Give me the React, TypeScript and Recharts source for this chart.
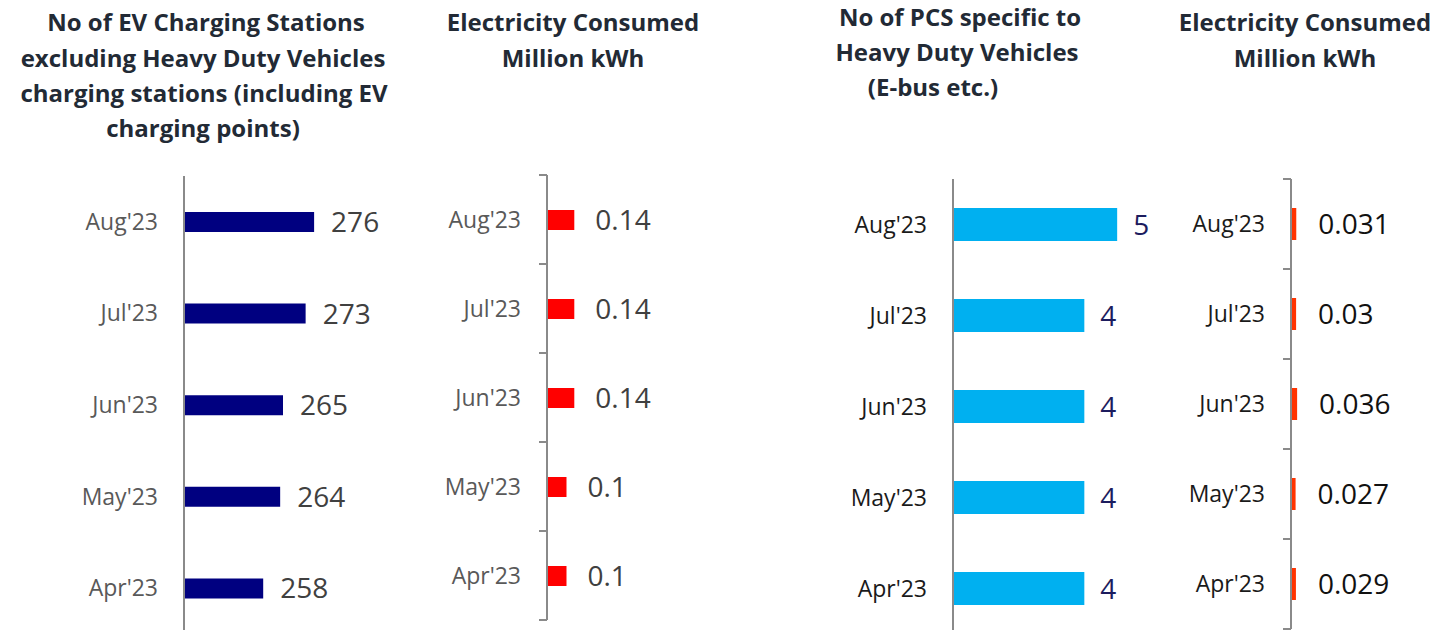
import React from 'react';
import { BarChart, Bar, XAxis, YAxis, LabelList } from 'recharts';

const months = ["Aug'23", "Jul'23", "Jun'23", "May'23", "Apr'23"];
const evStations = [276, 273, 265, 264, 258];
const evElectricity = [0.14, 0.14, 0.14, 0.1, 0.1];
const hdvStations = [5, 4, 4, 4, 4];
const hdvElectricity = [0.031, 0.03, 0.036, 0.027, 0.029];

const FONT = '"Open Sans", "Noto Sans", sans-serif';
const TITLE_COLOR = '#222a35';

interface ITitleLine {
    text: string;
    cx: number;
    cy: number;
}

const Title = ({ lines }: { lines: ITitleLine[] }) => (
    <>
        {lines.map((l, i) => (
            <div
                key={i}
                style={{
                    position: 'absolute',
                    left: l.cx - 300,
                    top: l.cy - 18,
                    width: 600,
                    lineHeight: '36px',
                    textAlign: 'center',
                    fontFamily: FONT,
                    fontWeight: 700,
                    fontSize: 24,
                    color: TITLE_COLOR,
                    whiteSpace: 'nowrap',
                }}
            >
                {l.text}
            </div>
        ))}
    </>
);

interface IPanelProps {
    values: number[];
    left: number;
    axisWidth: number;
    plotWidth: number;
    top: number;
    plotHeight: number;
    height: number;
    domain: [number, number];
    barColor: string;
    barSize: number;
    tickColor: string;
    valueColor: string;
    labelOffset: number;
    boundaryTicks: boolean;
}

const GAP = 26;

const Panel = (p: IPanelProps) => {
    const data = months.map((m, i) => ({ month: m, value: p.values[i] }));
    const band = p.plotHeight / months.length;
    const width = 1435 - p.left > 420 ? 420 : 1435 - p.left;

    const renderTick = (props: any) => {
        const { x, y, payload, index } = props;
        const axisX = x + GAP;
        return (
            <g>
                <text
                    x={x}
                    y={y}
                    dy="0.35em"
                    textAnchor="end"
                    fill={p.tickColor}
                    fontSize={23}
                    fontFamily={FONT}
                >
                    {payload.value}
                </text>
                {p.boundaryTicks && (
                    <line x1={axisX - 8} x2={axisX} y1={y - band / 2} y2={y - band / 2} stroke="#8a8a8a" strokeWidth={2} />
                )}
                {p.boundaryTicks && index === months.length - 1 && (
                    <line x1={axisX - 8} x2={axisX} y1={y + band / 2} y2={y + band / 2} stroke="#8a8a8a" strokeWidth={2} />
                )}
            </g>
        );
    };

    const renderLabel = (props: any) => {
        const { x, y, width: w, height: h, value } = props;
        return (
            <text
                x={x + w + p.labelOffset}
                y={y + h / 2}
                dy="0.36em"
                textAnchor="start"
                fill={p.valueColor}
                fontSize={28}
                fontFamily={FONT}
            >
                {value}
            </text>
        );
    };

    return (
        <div style={{ position: 'absolute', left: p.left, top: 0 }}>
            <BarChart
                width={width}
                height={p.height}
                data={data}
                layout="vertical"
                margin={{ top: p.top, right: width - p.axisWidth - p.plotWidth, bottom: p.height - p.top - p.plotHeight, left: 0 }}
            >
                <XAxis type="number" domain={p.domain} hide allowDataOverflow />
                <YAxis
                    type="category"
                    dataKey="month"
                    width={p.axisWidth}
                    tickSize={0}
                    tickMargin={GAP}
                    tickLine={false}
                    axisLine={{ stroke: '#8a8a8a', strokeWidth: 2 }}
                    tick={renderTick}
                    interval={0}
                />
                <Bar dataKey="value" fill={p.barColor} barSize={p.barSize} isAnimationActive={false}>
                    <LabelList dataKey="value" content={renderLabel} />
                </Bar>
            </BarChart>
        </div>
    );
};

const App = () => {
    return (
        <div style={{ position: 'fixed', left: 0, top: 0, width: 1435, height: 630, overflow: 'hidden', background: '#fff' }}>
            <Title lines={[
                { text: 'No of EV Charging Stations', cx: 206, cy: 22 },
                { text: 'excluding Heavy Duty Vehicles', cx: 203, cy: 58 },
                { text: 'charging stations (including EV', cx: 204, cy: 93 },
                { text: 'charging points)', cx: 203, cy: 128 },
            ]} />
            <Title lines={[
                { text: 'Electricity Consumed', cx: 573, cy: 22 },
                { text: 'Million kWh', cx: 573, cy: 58 },
            ]} />
            <Title lines={[
                { text: 'No of PCS specific to', cx: 960, cy: 17 },
                { text: 'Heavy Duty Vehicles', cx: 957, cy: 52 },
                { text: '(E-bus etc.)', cx: 933, cy: 87 },
            ]} />
            <Title lines={[
                { text: 'Electricity Consumed', cx: 1305, cy: 22 },
                { text: 'Million kWh', cx: 1305, cy: 58 },
            ]} />

            <Panel
                values={evStations}
                left={0}
                axisWidth={184}
                plotWidth={198}
                top={176}
                plotHeight={458}
                height={634}
                domain={[230, 300]}
                barColor="#000080"
                barSize={20}
                tickColor="#595959"
                valueColor="#404040"
                labelOffset={17}
                boundaryTicks={false}
            />
            <Panel
                values={evElectricity}
                left={420}
                axisWidth={127}
                plotWidth={117}
                top={175}
                plotHeight={445}
                height={630}
                domain={[0, 0.6]}
                barColor="#ff0000"
                barSize={20}
                tickColor="#595959"
                valueColor="#404040"
                labelOffset={21}
                boundaryTicks={true}
            />
            <Panel
                values={hdvStations}
                left={760}
                axisWidth={193}
                plotWidth={197}
                top={179}
                plotHeight={455}
                height={634}
                domain={[0, 6]}
                barColor="#00b0f0"
                barSize={33}
                tickColor="#1a1a1a"
                valueColor="#1c1c5e"
                labelOffset={16}
                boundaryTicks={false}
            />
            <Panel
                values={hdvElectricity}
                left={1160}
                axisWidth={131}
                plotWidth={85}
                top={179}
                plotHeight={450}
                height={630}
                domain={[0, 0.5]}
                barColor="#ff3300"
                barSize={32}
                tickColor="#1a1a1a"
                valueColor="#111111"
                labelOffset={22}
                boundaryTicks={true}
            />
        </div>
    );
};

export default App;
